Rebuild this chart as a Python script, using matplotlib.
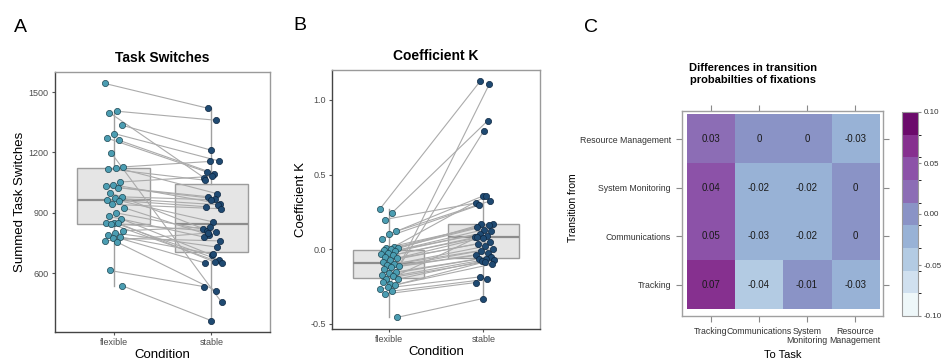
import numpy as np
import matplotlib
matplotlib.use("Agg")
import matplotlib.pyplot as plt
from matplotlib.colors import ListedColormap, BoundaryNorm

plt.rcParams['font.family'] = ['Liberation Sans', 'DejaVu Sans']
plt.rcParams['axes.unicode_minus'] = False

# ---- data ----
conditions = ["flexible", "stable"]

# task switches per participant (flexible -> stable)
switch_flexible = [1543, 1405, 1398, 1336, 1294, 1272, 1261, 1198, 1128, 1125,
                   1118, 1053, 1040, 1032, 1025, 1000, 979, 972, 965, 960,
                   942, 925, 899, 882, 870, 851, 849, 848, 845, 810,
                   799, 790, 780, 774, 760, 754, 613, 538]
switch_stable = [1419, 1360, 1075, 1211, 1158, 1103, 1095, 455, 1155, 995,
                 1062, 1081, 945, 980, 970, 821, 965, 940, 930, 854,
                 920, 790, 805, 779, 690, 666, 810, 655, 650, 830,
                 729, 650, 695, 760, 799, 513, 533, 364]

# coefficient K per participant (flexible -> stable)
k_flexible = [0.272, 0.243, 0.199, 0.12, 0.105, 0.071, 0.016, 0.01, 0.005, 0.0,
              -0.007, -0.01, -0.025, -0.03, -0.04, -0.051, -0.06, -0.07, -0.085, -0.10,
              -0.107, -0.11, -0.12, -0.13, -0.15, -0.16, -0.174, -0.18, -0.196, -0.2,
              -0.23, -0.22, -0.24, -0.25, -0.264, -0.28, -0.30, -0.457]
k_stable = [1.127, 0.86, 0.31, 0.357, 0.324, 0.295, 0.355, 0.17, 0.167, 0.16,
            0.15, 0.132, 0.12, 0.105, 0.09, 0.08, 0.078, 0.05, 0.038, 0.02,
            0.004, -0.01, -0.025, -0.04, 0.79, -0.051, -0.065, -0.068, -0.075, -0.08,
            1.103, 0.08, -0.085, -0.1, -0.185, -0.2, -0.223, -0.33]

# transition probability differences (rows = from, cols = to)
to_task = ["Tracking", "Communications", "System\nMonitoring", "Resource\nManagement"]
from_task = ["Tracking", "Communications", "System Monitoring", "Resource Management"]
from_tracking = [0.07, -0.04, -0.01, -0.03]
from_communications = [0.05, -0.03, -0.02, 0.0]
from_sysmon = [0.04, -0.02, -0.02, 0.0]
from_resman = [0.03, 0.0, 0.0, -0.03]

col_flex = "#4b9db2"
col_stable = "#1f4a72"
tick_col = "#4d4d4d"


def paired_panel(ax, flex, stab, title, ylabel, ylim, yticks, fmt):
    flex = np.asarray(flex)
    stab = np.asarray(stab)
    n = len(flex)
    # deterministic jitter
    jf = ((np.arange(n) * 0.618) % 1 - 0.45) * 0.2
    js = ((np.arange(n) * 0.382 + 0.3) % 1 - 0.45) * 0.2
    ax.boxplot([flex, stab], positions=[0, 1], widths=0.75, patch_artist=True,
               showfliers=False, whis=1.5, zorder=1,
               boxprops=dict(facecolor="#e5e5e5", edgecolor="#9c9c9c", linewidth=1),
               medianprops=dict(color="#8c8c8c", linewidth=1.6),
               whiskerprops=dict(color="#a0a0a0", linewidth=1),
               capprops=dict(linewidth=0))
    for i in range(n):
        ax.plot([jf[i], 1 + js[i]], [flex[i], stab[i]], color="#ababab", lw=0.8, zorder=2)
    ax.scatter(jf, flex, s=20, color=col_flex, edgecolor="#1e4652", linewidth=0.5, zorder=3)
    ax.scatter(1 + js, stab, s=20, color=col_stable, edgecolor="#0d2640", linewidth=0.5, zorder=3)
    ax.set_xlim(-0.6, 1.6)
    ax.set_ylim(*ylim)
    ax.set_yticks(yticks)
    ax.set_yticklabels([fmt.format(v) for v in yticks])
    ax.set_xticks([0, 1])
    ax.set_xticklabels(conditions)
    ax.tick_params(labelsize=6.5, labelcolor=tick_col, color="#555555", length=2.5, width=0.8, pad=2)
    ax.set_title(title, fontsize=10, fontweight="bold", pad=7)
    ax.set_xlabel("Condition", fontsize=9.5, labelpad=1)
    ax.set_ylabel(ylabel, fontsize=9.5, labelpad=2)
    for s in ["left", "bottom"]:
        ax.spines[s].set_color("#444444")
        ax.spines[s].set_linewidth(1.0)
    for s in ["top", "right"]:
        ax.spines[s].set_color("#9a9a9a")
        ax.spines[s].set_linewidth(1.0)


fig = plt.figure(figsize=(9.45, 3.6), dpi=100)

axA = fig.add_axes([55 / 945, 28 / 360, 215 / 945, 260 / 360])
paired_panel(axA, switch_flexible, switch_stable, "Task Switches", "Summed Task Switches",
             (307, 1600), [600, 900, 1200, 1500], "{:d}")

axB = fig.add_axes([332 / 945, 31 / 360, 208 / 945, 259 / 360])
paired_panel(axB, k_flexible, k_stable, "Coefficient K", "Coefficient K",
             (-0.534, 1.2), [-0.5, 0.0, 0.5, 1.0], "{:.1f}")

# ---- heatmap ----
grid = np.array([from_tracking, from_communications, from_sysmon, from_resman])
band_colors = ["#eef7f9", "#d0e0ef", "#b3cbe3", "#98b2d6", "#8a93c6",
               "#8c6db5", "#8c52a8", "#86308f", "#6b0a6b"]
cmap = ListedColormap(band_colors)
norm = BoundaryNorm(np.linspace(-0.1, 0.1, 10), cmap.N)

axC = fig.add_axes([682 / 945, 44 / 360, 201 / 945, 205 / 360])
im = axC.imshow(grid, cmap=cmap, norm=norm, origin="lower",
                extent=(-0.5, 3.5, -0.5, 3.5), aspect="auto")
for r in range(grid.shape[0]):
    for c in range(grid.shape[1]):
        v = grid[r, c]
        lab = "0" if v == 0 else "{:.2f}".format(v)
        axC.text(c, r, lab, ha="center", va="center", fontsize=7, color="#1a1a1a")
axC.set_xlim(-0.6, 3.58)
axC.set_ylim(-0.64, 3.58)
axC.set_xticks(range(4))
axC.set_xticklabels(to_task, linespacing=1.0)
axC.set_yticks(range(4))
axC.set_yticklabels(from_task)
axC.tick_params(top=True, right=True, direction="out", length=4, width=0.8,
                color="#8a8a8a", labelsize=6.3, labelcolor="#333333", pad=4)
for s in axC.spines.values():
    s.set_color("#a0a0a0")
    s.set_linewidth(1.0)
axC.set_xlabel("To Task", fontsize=8)
axC.set_ylabel("Transition from", fontsize=7.5)
axC.xaxis.set_label_coords(0.5, -0.165)
axC.yaxis.set_label_coords(-0.515, 0.53)

cax = fig.add_axes([902 / 945, 44 / 360, 16 / 945, 204 / 360])
cb = fig.colorbar(im, cax=cax, ticks=[-0.1, -0.05, 0.0, 0.05, 0.1], format="%.2f")
cb.outline.set_edgecolor("#9a9a9a")
cb.outline.set_linewidth(0.8)
cax.tick_params(labelsize=5.8, labelcolor="#333333", color="#8a8a8a", length=2.5, width=0.8, pad=1.5)

fig.text(753 / 945, 1 - 74 / 360, "Differences in transition\nprobabilties of fixations",
         ha="center", va="center", fontsize=8, fontweight="bold", linespacing=1.2)

# panel letters
fig.text(20 / 945, 1 - 27 / 360, "A", ha="center", va="center", fontsize=14)
fig.text(300 / 945, 1 - 25 / 360, "B", ha="center", va="center", fontsize=14)
fig.text(591 / 945, 1 - 28 / 360, "C", ha="center", va="center", fontsize=14)

fig.savefig("out.png", dpi=100)
